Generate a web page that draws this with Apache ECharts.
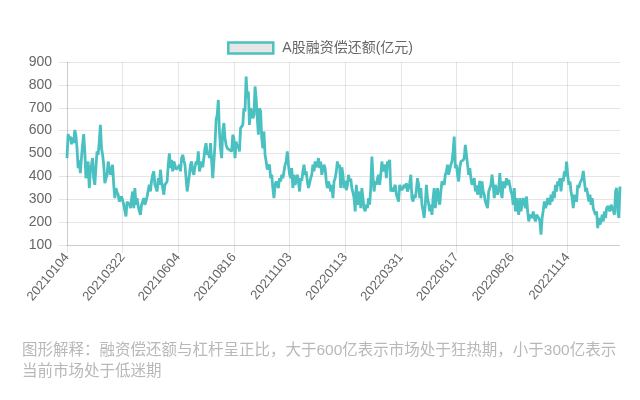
<!DOCTYPE html>
<html>
<head>
<meta charset="utf-8">
<script src="https://cdn.jsdelivr.net/npm/echarts@6/dist/echarts.min.js"></script>
<style>
html,body{margin:0;padding:0;background:#fff;}
#chart{width:640px;height:400px;}
</style>
</head>
<body>
<div id="chart"></div>
<script>
// ---- data ----
var seriesName = 'A股融资偿还额(亿元)';
var note = '图形解释：融资偿还额与杠杆呈正比，大于600亿表示市场处于狂热期，小于300亿表示\n当前市场处于低迷期';
var yTicks = [100, 200, 300, 400, 500, 600, 700, 800, 900];
var startDate = '20210104';
// exchange holidays falling on weekdays (used only to build trading-day category labels)
var holidays = ['20210101','20210211','20210212','20210215','20210216','20210217','20210405','20210503','20210504','20210505','20210614','20210920','20210921','20211001','20211004','20211005','20211006','20211007',
'20220103','20220131','20220201','20220202','20220203','20220204','20220404','20220405','20220502','20220503','20220504','20220603','20220912','20221003','20221004','20221005','20221006','20221007',
'20230102','20230123','20230124','20230125','20230126','20230127'];

var repay1 = [480,585,560,575,540,570,545,603,580,523,
436,470,414,480,540,585,509,392,430,465,
349,420,451,480,392,363,440,509,494,552,
625,523,494,451,370,390,407,465,440,407,
425,451,363,305,349,330,320,290,300,312,
295,276,250,225,290,276,285,261,300,334,
261,349,276,305,270,247,232,276,290,305,
276,290,312,340,363,334,380,407,422,363,
350,334,392,363,429,378,350,320,363,370,
378,451,501,436,472,422,465,451,430,422];
var repay2 = [440,451,422,480,494,470,451,392,334,370,
407,451,465,422,407,440,465,451,509,422,
420,465,440,480,523,545,494,509,480,545,
465,392,392,538,647,669,734,596,523,480,
600,633,567,538,523,530,516,523,509,582,
567,480,552,523,540,509,611,611,625,698,
684,836,742,771,625,698,684,654,669,793,
742,654,582,698,684,567,523,596,494,465,
430,422,451,392,407,349,305,363,378,360,
349,392,378,407,392,392,451,465,509,451];
var repay3 = [410,392,436,349,407,363,380,407,378,334,
392,380,422,451,407,422,378,349,370,392,
407,451,422,465,440,451,480,436,465,407,
430,451,436,378,349,378,360,334,363,305,
378,392,420,465,440,451,350,440,407,349,
380,340,360,407,378,390,349,330,305,247,
363,290,276,334,261,349,305,260,247,276,
261,305,276,350,487,400,334,378,363,390,
407,363,407,465,422,440,451,392,465,451,
472,334,349,334,350,363,320,305,290,363];
var repay4 = [349,340,334,363,349,370,334,349,370,407,
305,290,320,305,340,392,363,305,349,276,
250,218,276,363,305,280,247,276,232,305,
349,261,300,349,305,276,334,378,370,363,
407,422,451,407,430,451,465,509,574,436,
451,407,378,436,465,472,470,480,538,494,
451,407,436,392,363,380,392,334,360,320,
340,380,305,378,334,320,290,276,261,334,
340,363,407,363,305,363,340,320,349,414,
334,305,378,349,360,392,363,385,360,334];
var repay5 = [320,276,349,247,305,260,232,305,247,276,
305,290,261,312,247,203,232,225,218,247,
218,203,232,225,218,203,145,218,250,290,
261,276,305,290,276,320,290,334,305,363,
334,378,360,392,334,392,378,422,400,465,
407,363,378,334,305,261,320,300,290,363,
349,370,380,392,424,378,334,349,320,290,
320,276,305,261,245,232,247,174,218,189,
205,232,203,247,218,261,270,276,247,276,
261,250,232,334,349,247,218,356];

var values = repay1.concat(repay2, repay3, repay4, repay5);

// build trading-day labels
function tradingDays(start, n, hol) {
  var set = {}; hol.forEach(function (h) { set[h] = 1; });
  var d = new Date(Date.UTC(+start.slice(0,4), +start.slice(4,6) - 1, +start.slice(6,8)));
  var out = [];
  while (out.length < n) {
    var wd = d.getUTCDay();
    var s = d.getUTCFullYear() + ('0' + (d.getUTCMonth() + 1)).slice(-2) + ('0' + d.getUTCDate()).slice(-2);
    if (wd !== 0 && wd !== 6 && !set[s]) out.push(s);
    d.setUTCDate(d.getUTCDate() + 1);
  }
  return out;
}
var dates = tradingDays(startDate, values.length, holidays);

var font = '"Helvetica Neue", "Liberation Sans", Arial, "Noto Sans CJK SC", sans-serif';
var gridColor = 'rgba(0,0,0,0.1)';
var teal = 'rgb(75,192,192)';

var chart = echarts.init(document.getElementById('chart'), null, {renderer: 'canvas'});
chart.setOption({
  animation: false,
  backgroundColor: '#fff',
  textStyle: {fontFamily: font},
  legend: {
    top: 36,
    left: 'center',
    itemWidth: 45,
    itemHeight: 11,
    itemGap: 10,
    textStyle: {color: '#666', fontSize: 14, fontFamily: font, padding: [0, 0, 0, 4]},
    data: [{
      name: seriesName,
      icon: 'rect',
      itemStyle: {color: '#e6e6e6', borderColor: teal, borderWidth: 2.5}
    }]
  },
  grid: {left: 67, right: 20, top: 62, bottom: 155, containLabel: false},
  xAxis: {
    type: 'category',
    data: dates,
    boundaryGap: false,
    axisLine: {show: true, lineStyle: {color: gridColor}},
    axisTick: {show: true, interval: 49, length: 8, lineStyle: {color: gridColor}},
    splitLine: {show: true, interval: 49, lineStyle: {color: gridColor}},
    axisLabel: {interval: 49, rotate: 50, color: '#666', fontSize: 13, margin: 10, fontFamily: font}
  },
  yAxis: {
    type: 'value',
    min: yTicks[0],
    max: yTicks[yTicks.length - 1],
    interval: 100,
    axisLine: {show: true, lineStyle: {color: gridColor}},
    axisTick: {show: true, length: 8, lineStyle: {color: gridColor}},
    splitLine: {show: true, lineStyle: {color: gridColor}},
    axisLabel: {color: '#666', fontSize: 14, margin: 15, fontFamily: font}
  },
  series: [{
    name: seriesName,
    type: 'line',
    data: values,
    showSymbol: false,
    symbol: 'none',
    lineStyle: {color: teal, width: 2.8},
    itemStyle: {color: teal}
  }],
  graphic: [{
    type: 'text',
    left: 22,
    top: 340,
    style: {
      text: note,
      fill: '#b8b8b8',
      fontSize: 15.5,
      lineHeight: 21,
      fontFamily: font
    }
  }]
});
</script>
</body>
</html>
